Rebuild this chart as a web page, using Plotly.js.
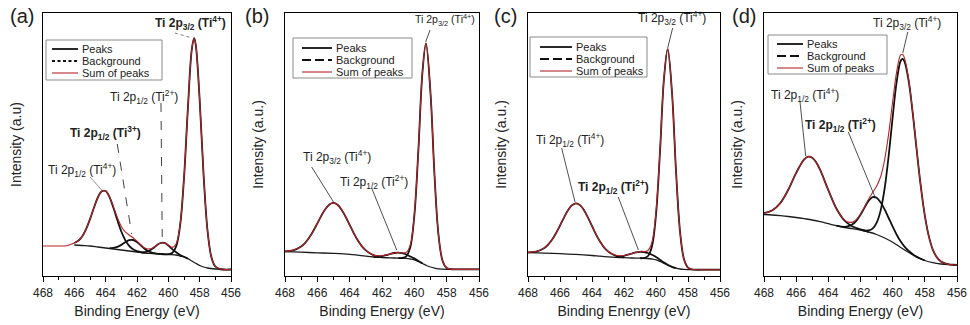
<!DOCTYPE html>
<html>
<head>
<meta charset="utf-8">
<script src="https://cdn.plot.ly/plotly-3.0.1.min.js"></script>
<style>html,body{margin:0;padding:0;background:#fff;}#chart{width:970px;height:325px;}</style>
</head>
<body>
<div id="chart"></div>
<script>
// ---------------- DATA (intensity in arbitrary units) ----------------
// Panel (a)
const aBgX = [466, 465.5, 465, 464.5, 464, 463.5, 463, 462.5, 462, 461.5, 461, 460.5, 460, 459.5, 459.25, 459, 458.75, 458.5, 458.25, 458, 457.75, 457.5, 457, 456.5, 456];
const aBgY = [31, 30.5, 30, 29, 28, 27, 26, 25, 24, 23, 22.5, 22, 21.5, 21, 20, 19, 17.3, 15, 12.7, 10.5, 9, 8, 7, 6.5, 6.5];
const aP1X = [466, 465.75, 465.5, 465.25, 465, 464.75, 464.5, 464.25, 464, 463.75, 463.5, 463.25, 463, 462.75, 462.5, 462.25, 462, 461.5];
const aP1Y = [33.0, 35.2, 39.6, 46.9, 56.9, 68.2, 78.5, 84.8, 85.0, 78.7, 68.0, 55.7, 44.5, 35.9, 30.2, 26.8, 24.9, 23.1];
const aP2X = [463.75, 463.5, 463.25, 463, 462.75, 462.5, 462.25, 462, 461.75, 461.5, 461.25, 461, 460.75, 460.5];
const aP2Y = [27.9, 28.1, 29.1, 31.1, 33.7, 35.8, 36.0, 33.9, 30.5, 27.0, 24.6, 23.2, 22.45, 22.0];
const aP3X = [461.75, 461.5, 461.25, 461, 460.75, 460.5, 460.25, 460, 459.75, 459.5, 459.25, 459, 458.75];
const aP3Y = [23.7, 23.8, 25.0, 27.4, 30.6, 33.0, 33.05, 30.5, 26.9, 23.7, 21.0, 19.3, 17.3];
const aP4X = [460.5, 460, 459.75, 459.5, 459.25, 459, 458.75, 458.5, 458.35, 458.25, 458, 457.75, 457.5, 457.25, 457, 456.75, 456.5, 456];
const aP4Y = [22.0, 21.8, 23.0, 29.6, 50.3, 97.9, 168.2, 226.9, 237.8, 231.3, 176.0, 101.1, 45.6, 18.8, 9.5, 7.2, 6.5, 6.5];
const aSumX = [468, 467.5, 467, 466.5, 466, 465.75, 465.5, 465.25, 465, 464.75, 464.5, 464.25, 464, 463.75, 463.5, 463.25, 463, 462.75, 462.5, 462.25, 462, 461.75, 461.5, 461.25, 461, 460.75, 460.5, 460.25, 460, 459.75, 459.5, 459.25, 459, 458.75, 458.5, 458.35, 458.25, 458, 457.75, 457.5, 457.25, 457, 456.75, 456.5, 456];
const aSumY = [30, 30, 30, 30.3, 33.0, 35.2, 39.6, 46.9, 56.9, 68.2, 78.5, 84.8, 85.0, 79.1, 69.1, 58.3, 49.6, 44.1, 41.0, 38.3, 34.8, 31.0, 27.9, 26.95, 28.1, 30.75, 33.0, 33.05, 30.8, 28.65, 32.3, 51.3, 98.2, 168.2, 226.9, 237.8, 231.3, 176, 101.1, 45.6, 18.8, 9.5, 7.2, 6.5, 6.5];

// Panel (b)
const bBgX = [468, 467, 466, 465, 464, 463.5, 463, 462.5, 462, 461.5, 461, 460.5, 460.25, 460, 459.75, 459.5, 459.25, 459, 458.75, 458.5, 458, 457, 456];
const bBgY = [24.3, 23.8, 23.2, 22.6, 21.7, 20.8, 19.8, 19.0, 18.5, 18.1, 17.9, 17.6, 17.0, 16.2, 14.5, 12.5, 10.5, 9.0, 7.9, 7.2, 6.7, 6.6, 6.6];
const bP1X = [468, 467.5, 467, 466.75, 466.5, 466.25, 466, 465.75, 465.5, 465.25, 465, 464.75, 464.5, 464.25, 464, 463.75, 463.5, 463.25, 463, 462.75, 462.5, 462];
const bP1Y = [24.7, 25.7, 29.6, 33.2, 38.5, 45.05, 52.6, 60.35, 67.0, 71.55, 73.1, 71.2, 66.3, 59.25, 51.1, 42.95, 35.8, 29.9, 25.6, 22.7, 20.7, 18.9];
const bP2X = [462.5, 462.25, 462, 461.75, 461.5, 461.25, 461, 460.75, 460.5, 460.25, 460, 459.75, 459.5];
const bP2Y = [19.2, 19.4, 19.9, 20.8, 22.0, 23.0, 23.4, 22.8, 21.5, 19.5, 17.6, 15.1, 12.7];
const bP3X = [461, 460.75, 460.5, 460.25, 460, 459.75, 459.5, 459.28, 459, 458.75, 458.5, 458.25, 458, 457.75, 457.5, 457, 456];
const bP3Y = [17.9, 18.0, 19.7, 28.7, 60.2, 125.8, 203.4, 232.7, 182.8, 100.2, 40.3, 15.0, 8.0, 6.85, 6.65, 6.6, 6.6];
const bSumX = [468, 467.5, 467, 466.75, 466.5, 466.25, 466, 465.75, 465.5, 465.25, 465, 464.75, 464.5, 464.25, 464, 463.75, 463.5, 463.25, 463, 462.75, 462.5, 462.25, 462, 461.75, 461.5, 461.25, 461, 460.75, 460.5, 460.25, 460, 459.75, 459.5, 459.28, 459, 458.75, 458.5, 458.25, 458, 457.75, 457.5, 457, 456.5, 456];
const bSumY = [24.7, 25.7, 29.6, 33.2, 38.5, 45.05, 52.6, 60.35, 67.0, 71.55, 73.1, 71.2, 66.3, 59.25, 51.1, 42.95, 35.8, 29.9, 25.6, 22.7, 20.9, 20.2, 20.3, 21.0, 22.0, 23.0, 23.4, 23.05, 23.6, 31.2, 61.6, 126.4, 203.6, 232.7, 182.8, 100.2, 40.3, 15.0, 8.0, 6.85, 6.65, 6.6, 6.6, 6.6];

// Panel (c)
const cBgX = [468, 467, 466, 465, 464, 463.5, 463, 462.5, 462, 461.5, 461, 460.5, 460.25, 460, 459.75, 459.5, 459.25, 459, 458.75, 458.5, 458.25, 458, 457, 456];
const cBgY = [23.3, 22.9, 22.3, 21.6, 20.5, 19.8, 19.2, 18.7, 18.3, 18.0, 17.8, 17.5, 17.0, 16.2, 14.6, 12.6, 10.6, 9.0, 7.8, 7.0, 6.6, 6.4, 6.3, 6.3];
const cP1X = [468, 467.5, 467, 466.75, 466.5, 466.25, 466, 465.75, 465.5, 465.25, 465, 464.75, 464.5, 464.25, 464, 463.75, 463.5, 463.25, 463, 462.75, 462.5, 462.25, 462];
const cP1Y = [23.6, 24.45, 27.85, 31.25, 36.2, 42.75, 50.4, 58.45, 65.7, 70.7, 72.6, 70.85, 65.8, 58.4, 50.0, 41.65, 34.4, 28.7, 24.6, 21.95, 20.2, 19.2, 18.6];
const cP2X = [462.5, 462.25, 462, 461.75, 461.5, 461.25, 461, 460.75, 460.5, 460.25, 460, 459.75, 459.5, 459.25, 459, 458.75];
const cP2Y = [19.2, 19.5, 20.2, 21.3, 22.5, 23.6, 24.2, 24.0, 23.0, 21.2, 19.0, 16.3, 13.5, 11.0, 9.2, 7.8];
const cP3X = [461, 460.75, 460.5, 460.25, 460, 459.75, 459.5, 459.27, 459, 458.75, 458.5, 458.25, 458, 457.75, 457.5, 457, 456];
const cP3Y = [17.8, 18.0, 20.0, 29.8, 61.3, 124.3, 197.5, 226.8, 183.3, 105.3, 44.8, 16.7, 8.3, 6.6, 6.3, 6.3, 6.3];
const cSumX = [468, 467.5, 467, 466.75, 466.5, 466.25, 466, 465.75, 465.5, 465.25, 465, 464.75, 464.5, 464.25, 464, 463.75, 463.5, 463.25, 463, 462.75, 462.5, 462.25, 462, 461.75, 461.5, 461.25, 461, 460.75, 460.5, 460.25, 460, 459.75, 459.5, 459.27, 459, 458.75, 458.5, 458.25, 458, 457.75, 457.5, 457, 456.5, 456];
const cSumY = [23.6, 24.45, 27.85, 31.25, 36.2, 42.75, 50.4, 58.45, 65.7, 70.7, 72.6, 70.85, 65.8, 58.4, 50.0, 41.65, 34.4, 28.7, 24.7, 22.15, 20.7, 20.2, 20.5, 21.4, 22.55, 23.6, 24.25, 24.35, 25.5, 34.0, 64.1, 126.0, 198.4, 227.2, 183.5, 105.4, 44.8, 16.7, 8.3, 6.6, 6.3, 6.3, 6.3, 6.3];

// Panel (d)
const dBgX = [468, 467.5, 467, 466.5, 466, 465.5, 465, 464.5, 464, 463.5, 463, 462.5, 462, 461.5, 461, 460.5, 460, 459.5, 459, 458.5, 458, 457.5, 457, 456.5, 456];
const dBgY = [61.5, 61, 60.3, 59.5, 58.5, 57.3, 56, 54.3, 52.3, 50.3, 48.5, 47.3, 46, 44, 41.5, 38, 33.8, 28.5, 23.5, 18.8, 15.5, 13.3, 12, 11.3, 11];
const dP1X = [468, 467.5, 467, 466.5, 466, 465.5, 465.25, 465, 464.75, 464.5, 464, 463.5, 463, 462.5, 462, 461.5];
const dP1Y = [62.8, 65.5, 72.65, 86.0, 103.2, 116.7, 119.35, 118.3, 113.55, 105.8, 85.9, 67.5, 55.5, 49.5, 46.6, 44.1];
const dP2X = [463.5, 463, 462.75, 462.5, 462.25, 462, 461.75, 461.5, 461.25, 461, 460.75, 460.5, 460.25, 460, 459.75, 459.5, 459.25, 459, 458.75, 458.5, 458.25, 458];
const dP2Y = [50.4, 49.2, 49.8, 51.7, 55.45, 61.3, 68.4, 75.1, 78.85, 78.2, 73.65, 66.6, 58.0, 49.4, 41.25, 34.4, 29.2, 25.1, 21.9, 19.1, 17.26, 15.5];
const dP3X = [462, 461.75, 461.5, 461.25, 461, 460.75, 460.5, 460.25, 460, 459.75, 459.5, 459.37, 459.25, 459, 458.75, 458.5, 458.25, 458, 457.75, 457.5, 457.25, 457, 456.75, 456.5, 456.25, 456];
const dP3Y = [46.1, 45.5, 45.6, 47.35, 53.1, 65.35, 87.6, 120.0, 158.9, 194.35, 215.2, 217.2, 213.9, 194.5, 162.55, 125.0, 89.55, 60.3, 39.6, 26.2, 18.65, 14.5, 12.6, 11.6, 11.25, 11.0];
const dSumX = [468, 467.5, 467, 466.5, 466, 465.5, 465.25, 465, 464.75, 464.5, 464, 463.5, 463.25, 463, 462.75, 462.5, 462.25, 462, 461.75, 461.5, 461.25, 461, 460.75, 460.5, 460.25, 460, 459.75, 459.5, 459.37, 459.25, 459, 458.75, 458.5, 458.25, 458, 457.75, 457.5, 457.25, 457, 456.75, 456.5, 456.25, 456];
const dSumY = [62.8, 65.5, 72.65, 86.0, 103.2, 116.7, 119.35, 118.3, 113.55, 105.8, 85.9, 67.6, 60.9, 56.2, 53.9, 53.9, 56.6, 62.0, 69.1, 76.8, 83.45, 89.8, 99.25, 116.2, 142.1, 174.5, 204.45, 221.1, 221.6, 217.1, 196.1, 163.3, 125.3, 89.7, 60.3, 39.6, 26.2, 18.65, 14.5, 12.6, 11.6, 11.25, 11.0];

// Text
const panelLetters = ['(a)', '(b)', '(c)', '(d)'];
const xTitles = ['Binding Energy (eV)', 'Binding Energy (eV)', 'Binding Enenrgy (eV)', 'Binding Energy (eV)'];
const yTitles = ['Intensity (a.u)', 'Intensity (a.u.)', 'Intensity (a.u.)', 'Intensity (a.u.)'];
const legendNames = ['Peaks', 'Background', 'Sum of peaks'];
const lbl32_4 = 'Ti 2p<sub>3/2</sub> (Ti<sup>4+</sup>)';
const lbl12_4 = 'Ti 2p<sub>1/2</sub> (Ti<sup>4+</sup>)';
const lbl12_3 = 'Ti 2p<sub>1/2</sub> (Ti<sup>3+</sup>)';
const lbl12_2 = 'Ti 2p<sub>1/2</sub> (Ti<sup>2+</sup>)';

// ---------------- LAYOUT ----------------
const W = 970, H = 325;
const FONT = 'Liberation Sans, Arial, Helvetica, sans-serif';
const PX = px => px / W;
const PY = py => 1 - py / H;
const plotLeft = [43, 285, 528, 764], plotRight = [231, 479, 720, 957];
const plotTop = 13, plotBottom = 276;
const BLACK = '#111111', RED = '#b3262a';

const panelsData = [
  {bg: [aBgX, aBgY], peaks: [[aP1X, aP1Y], [aP2X, aP2Y], [aP3X, aP3Y], [aP4X, aP4Y]], sum: [aSumX, aSumY]},
  {bg: [bBgX, bBgY], peaks: [[bP1X, bP1Y], [bP2X, bP2Y], [bP3X, bP3Y]], sum: [bSumX, bSumY]},
  {bg: [cBgX, cBgY], peaks: [[cP1X, cP1Y], [cP2X, cP2Y], [cP3X, cP3Y]], sum: [cSumX, cSumY]},
  {bg: [dBgX, dBgY], peaks: [[dP1X, dP1Y], [dP2X, dP2Y], [dP3X, dP3Y]], sum: [dSumX, dSumY]}
];

const traces = [];
const layout = {
  width: W, height: H, margin: {l: 0, r: 0, t: 0, b: 0},
  paper_bgcolor: '#ffffff', plot_bgcolor: '#ffffff', showlegend: false,
  font: {family: FONT, color: '#222222'},
  shapes: [], annotations: []
};

panelsData.forEach((p, i) => {
  const n = i === 0 ? '' : String(i + 1);
  const xa = 'x' + n, ya = 'y' + n;
  const common = {xaxis: xa, yaxis: ya, mode: 'lines', hoverinfo: 'skip', showlegend: false};
  traces.push(Object.assign({x: p.bg[0], y: p.bg[1], name: legendNames[1],
    line: {color: '#1c1c1c', width: 1.3, shape: 'spline'}}, common));
  p.peaks.forEach(pk => traces.push(Object.assign({x: pk[0], y: pk[1], name: legendNames[0],
    line: {color: BLACK, width: 1.8, shape: 'spline'}}, common)));
  traces.push(Object.assign({x: p.sum[0], y: p.sum[1], name: legendNames[2],
    line: {color: RED, width: 1.1, shape: 'spline'}}, common));

  layout['xaxis' + n] = {
    domain: [PX(plotLeft[i]), PX(plotRight[i])], anchor: ya, range: [468, 456],
    showline: true, linecolor: '#000', linewidth: 1.2, mirror: true,
    ticks: 'outside', ticklen: 5, tickwidth: 1, tickcolor: '#000', dtick: 2, tick0: 456,
    minor: {dtick: 1, ticks: 'outside', ticklen: 3, tickwidth: 1, tickcolor: '#000', showgrid: false},
    tickfont: {family: FONT, size: 12, color: '#222'},
    showgrid: false, zeroline: false, fixedrange: true,
    title: {text: xTitles[i], font: {family: FONT, size: 14, color: '#222'}, standoff: 7}
  };
  layout['yaxis' + n] = {
    domain: [PY(plotBottom), PY(plotTop)], anchor: xa, range: [0, 263],
    showline: true, linecolor: '#000', linewidth: 1.2, mirror: true,
    ticks: '', showticklabels: false, showgrid: false, zeroline: false, fixedrange: true,
    title: {text: yTitles[i], font: {family: FONT, size: 14, color: '#222'}, standoff: 17}
  };
});

// panel letters
const letterX = [22, 257, 505, 744];
panelLetters.forEach((t, i) => layout.annotations.push({
  text: t, xref: 'paper', yref: 'paper', x: PX(letterX[i]), y: PY(16), showarrow: false,
  xanchor: 'center', yanchor: 'middle', font: {family: FONT, size: 20, color: '#222'}
}));

// legends (drawn as boxes, sample lines and texts)
const legendBoxes = [
  {box: [46, 40, 162, 80], rows: [49, 61, 73], sx: [52, 78], tx: 80, dash: '3px,2.5px'},
  {box: [293, 38, 412, 78], rows: [48, 60, 72], sx: [302, 332], tx: 334, dash: '9px,4px'},
  {box: [530, 37, 647, 77], rows: [47, 59, 71], sx: [540, 572], tx: 574, dash: '9px,4px'},
  {box: [768, 35, 887, 74], rows: [44, 56, 68], sx: [777, 803], tx: 805, dash: '9px,4px'}
];
legendBoxes.forEach(L => {
  layout.shapes.push({type: 'rect', xref: 'paper', yref: 'paper', x0: PX(L.box[0]), x1: PX(L.box[2]),
    y0: PY(L.box[3]), y1: PY(L.box[1]), line: {color: '#8a8a8a', width: 1}, fillcolor: '#ffffff', layer: 'above'});
  const styles = [{color: BLACK, width: 1.8, dash: 'solid'}, {color: BLACK, width: 1.8, dash: L.dash}, {color: RED, width: 1.1, dash: 'solid'}];
  L.rows.forEach((r, k) => {
    layout.shapes.push({type: 'line', xref: 'paper', yref: 'paper', x0: PX(L.sx[0]), x1: PX(L.sx[1]),
      y0: PY(r), y1: PY(r), line: styles[k], layer: 'above'});
    layout.annotations.push({text: legendNames[k], xref: 'paper', yref: 'paper', x: PX(L.tx), y: PY(r),
      xanchor: 'left', yanchor: 'middle', showarrow: false, font: {family: FONT, size: 11, color: '#222'}});
  });
});

// peak labels with pointer lines (data coordinates of each panel)
const peakLabels = [
  {p: 0, text: lbl32_4, x: 458.56, y: 253, bold: true, size: 12, anchor: 'center', line: [459.58, 243, 458.49, 238], lc: '#555', dash: 'dot'},
  {p: 0, text: lbl12_2, x: 461.55, y: 179, bold: false, size: 12, anchor: 'center', line: [460.47, 173, 460.39, 39], lc: '#111', dash: 'dash'},
  {p: 0, text: lbl12_3, x: 464.04, y: 143, bold: true, size: 12, anchor: 'center', line: [463.26, 132, 462.34, 42], lc: '#111', dash: 'dash'},
  {p: 0, text: lbl12_4, x: 465.51, y: 106, bold: false, size: 12, anchor: 'center', line: [465.0, 99, 464.25, 86], lc: '#777', dash: 'solid'},
  {p: 1, text: lbl32_4, x: 456.1, y: 256, bold: false, size: 10.5, anchor: 'right', line: [459.03, 246, 459.3, 234], lc: '#222', dash: 'solid'},
  {p: 1, text: lbl32_4, x: 464.8, y: 119, bold: false, size: 12, anchor: 'center', line: [466.35, 109, 465.0, 74], lc: '#222', dash: 'solid'},
  {p: 1, text: lbl12_2, x: 462.5, y: 94, bold: false, size: 12, anchor: 'center', line: [462.64, 88, 461.09, 26], lc: '#222', dash: 'solid'},
  {p: 2, text: lbl32_4, x: 459.02, y: 258, bold: false, size: 12, anchor: 'center', line: [458.96, 248, 459.27, 228], lc: '#222', dash: 'solid'},
  {p: 2, text: lbl12_4, x: 465.38, y: 136, bold: false, size: 12, anchor: 'center', line: [465.9, 128, 465.06, 74], lc: '#222', dash: 'solid'},
  {p: 2, text: lbl12_2, x: 462.67, y: 89, bold: true, size: 12, anchor: 'center', line: [462.36, 79, 461.1, 26], lc: '#222', dash: 'solid'},
  {p: 3, text: lbl32_4, x: 459.13, y: 253, bold: false, size: 12, anchor: 'center', line: [459.06, 244, 459.37, 223], lc: '#222', dash: 'solid'},
  {p: 3, text: lbl12_4, x: 465.45, y: 181, bold: false, size: 12, anchor: 'center', line: [465.76, 174, 465.41, 120], lc: '#222', dash: 'solid'},
  {p: 3, text: lbl12_2, x: 463.23, y: 151, bold: true, size: 12, anchor: 'center', line: [462.76, 144, 461.1, 79], lc: '#222', dash: 'solid'}
];
peakLabels.forEach(L => {
  const n = L.p === 0 ? '' : String(L.p + 1);
  layout.annotations.push({text: L.bold ? '<b>' + L.text + '</b>' : L.text, xref: 'x' + n, yref: 'y' + n,
    x: L.x, y: L.y, showarrow: false, xanchor: L.anchor, yanchor: 'middle',
    font: {family: FONT, size: L.size, color: '#222'}});
  layout.shapes.push({type: 'line', xref: 'x' + n, yref: 'y' + n, x0: L.line[0], y0: L.line[1], x1: L.line[2], y1: L.line[3],
    line: {color: L.lc, width: 0.8, dash: L.dash}});
});

Plotly.newPlot('chart', traces, layout, {staticPlot: true, displayModeBar: false});
</script>
</body>
</html>
